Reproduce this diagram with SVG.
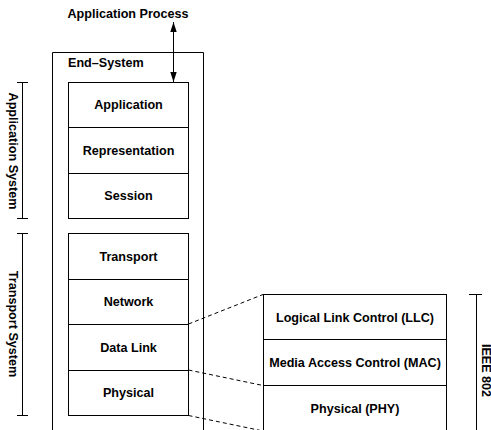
<svg xmlns="http://www.w3.org/2000/svg" width="491" height="430" viewBox="0 0 491 430">
<defs>
<style>
text{font-family:"Liberation Sans",Arial,sans-serif;font-weight:bold;font-size:12.6px;fill:#000;}
.c{text-anchor:middle;}
.box{fill:#fff;stroke:#000;stroke-width:1;}
.ln{fill:none;stroke:#000;stroke-width:1;}
.dash{fill:none;stroke:#000;stroke-width:1;stroke-dasharray:4,3;}
</style>
<marker id="ah" viewBox="0 0 10 10" refX="10" refY="5" markerWidth="10" markerHeight="10" markerUnits="userSpaceOnUse" orient="auto-start-reverse">
<path d="M0,1.8 L10,5 L0,8.2 Z" fill="#000"/>
</marker>
</defs>
<rect width="491" height="430" fill="#fff"/>
<text class="c" x="128" y="18">Application Process</text>
<g id="end-system">
<path class="ln" d="M52.5,431 V52.5 H203.5 V431"/>
<text x="68" y="67">End–System</text>
</g>
<g id="application"><rect class="box" x="68.5" y="82.5" width="120" height="45"/><text class="c" x="128.5" y="109">Application</text></g>
<g id="representation"><rect class="box" x="68.5" y="127.5" width="120" height="46"/><text class="c" x="128.5" y="155">Representation</text></g>
<g id="session"><rect class="box" x="68.5" y="173.5" width="120" height="45"/><text class="c" x="128.5" y="200">Session</text></g>
<g id="transport"><rect class="box" x="68.5" y="233.5" width="120" height="46"/><text class="c" x="128.5" y="261">Transport</text></g>
<g id="network"><rect class="box" x="68.5" y="279.5" width="120" height="45"/><text class="c" x="128.5" y="306">Network</text></g>
<g id="datalink"><rect class="box" x="68.5" y="324.5" width="120" height="46"/><text class="c" x="128.5" y="352">Data Link</text></g>
<g id="physical"><rect class="box" x="68.5" y="370.5" width="120" height="45"/><text class="c" x="128.5" y="397">Physical</text></g>
<g id="llc"><rect class="box" x="263.5" y="294.5" width="183" height="45"/><text class="c" x="355" y="322">Logical Link Control (LLC)</text></g>
<g id="mac"><rect class="box" x="263.5" y="339.5" width="183" height="46"/><text class="c" x="355" y="367">Media Access Control (MAC)</text></g>
<g id="phy"><rect class="box" x="263.5" y="385.5" width="183" height="46"/><text class="c" x="355" y="413">Physical (PHY)</text></g>
<g id="app-system">
<path class="ln" d="M17,82.5 H28 M22.5,82.5 V218.5 M17,218.5 H28"/>
<text class="c" transform="translate(13,151) rotate(90)" dy="0.35em">Application System</text>
</g>
<g id="transport-system">
<path class="ln" d="M17,233.5 H28 M22.5,233.5 V415.5 M17,415.5 H28"/>
<text class="c" transform="translate(13,324) rotate(90)" dy="0.35em">Transport System</text>
</g>
<g id="ieee802">
<path class="ln" d="M469,294.5 H482 M476.5,294.5 V431"/>
<text class="c" transform="translate(481.5,370.5) rotate(90)">IEEE 802</text>
</g>
<g id="connectors">
<line class="ln" x1="173.5" y1="22" x2="173.5" y2="82" marker-start="url(#ah)" marker-end="url(#ah)"/>
<line class="dash" x1="188.5" y1="324" x2="263" y2="294.5"/>
<line class="dash" x1="188.5" y1="370" x2="263" y2="385.5"/>
<line class="dash" x1="188.5" y1="415.5" x2="263" y2="431"/>
</g>
</svg>
